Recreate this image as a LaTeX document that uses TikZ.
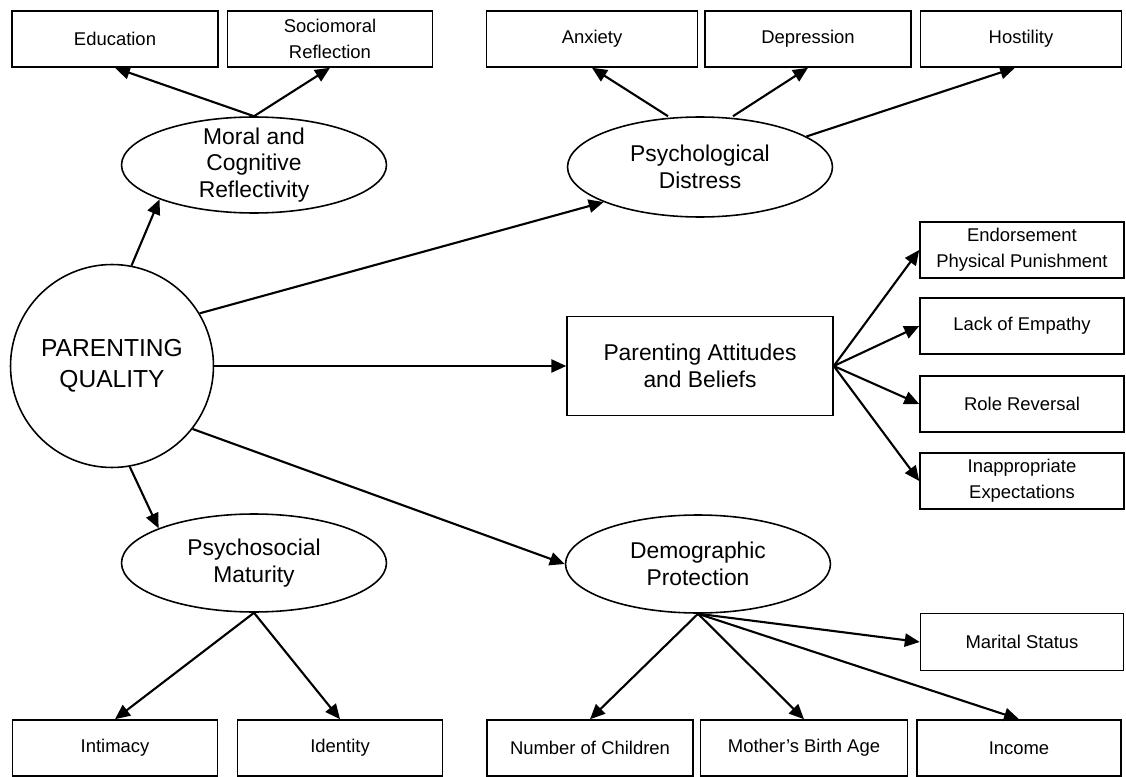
\documentclass[tikz,border=0pt]{standalone}
\usepackage{fontspec}
\setmainfont{Liberation Sans}
\usetikzlibrary{arrows.meta,shapes.geometric}

\begin{document}
\begin{tikzpicture}[x=0.02cm, y=-0.02cm,
  box/.style={draw, line width=0.9pt, inner sep=0pt, minimum height=1.12cm, align=center, font=\fontsize{10.5}{14.8}\selectfont},
  latent/.style={draw, ellipse, line width=0.9pt, inner sep=0pt, minimum width=5.3cm, minimum height=1.96cm, align=center, font=\fontsize{13}{15}\selectfont},
  link/.style={-{Triangle[length=8.5pt,width=7.5pt]}, line width=1.2pt}]
\useasboundingbox (0,0) rectangle (1126,777);
% indicators, top row
\node [box, minimum width=4.12cm] (education) at (115,39) {Education};
\node [box, minimum width=4.1cm] (socio) at (330,39) {Sociomoral\\Reflection};
\node [box, minimum width=4.22cm] (anxiety) at (592,39) {Anxiety};
\node [box, minimum width=4.12cm] (depression) at (808,39) {Depression};
\node [box, minimum width=4.02cm] (hostility) at (1021,39) {Hostility};
% latent factors
\node [latent, minimum height=1.92cm, inner ysep=-2pt] (moral) at (254,165) {Moral and\\Cognitive\\Reflectivity};
\node [latent, minimum height=2cm] (distress) at (700,167) {Psychological\\Distress};
\node [latent] (psycho) at (254,563) {Psychosocial\\Maturity};
\node [latent] (demo) at (698,564) {Demographic\\Protection};
\node [draw, circle, line width=0.9pt, inner sep=0pt, minimum size=4.06cm, align=center, font=\fontsize{14}{17.6}\selectfont] (pq) at (112,366) {PARENTING\\QUALITY};
\node [box, minimum width=5.32cm, minimum height=1.98cm, font=\fontsize{13}{15}\selectfont] (attitudes) at (700,366) {Parenting Attitudes\\and Beliefs};
% indicators, right column
\node [box, minimum width=4.08cm] (endorse) at (1022,250) {Endorsement\\Physical Punishment};
\node [box, minimum width=4.08cm] (empathy) at (1022,326) {Lack of Empathy};
\node [box, minimum width=4.08cm] (reversal) at (1022,404) {Role Reversal};
\node [box, minimum width=4.08cm] (expect) at (1022,481) {Inappropriate\\Expectations};
\node [box, minimum width=4.06cm, minimum height=1.14cm] (marital) at (1022,642) {Marital Status};
% indicators, bottom row
\node [box, minimum width=4.1cm] (intimacy) at (115,748) {Intimacy};
\node [box, minimum width=4.1cm] (identity) at (340,748) {Identity};
\node [box, minimum width=4.12cm] (children) at (590,748) {Number of Children};
\node [box, minimum width=4.14cm] (birthage) at (804,748) {Mother's Birth Age};
\node [box, minimum width=4.08cm] (income) at (1019,748) {Income};
% paths
\draw [link] (moral.north) -- (education.south);
\draw [link] (moral.north) -- (socio.south);
\draw [link] ([xshift=-0.64cm]distress.north) -- (anxiety.south);
\draw [link] ([xshift=0.66cm]distress.north) -- (depression.south);
\draw [link] (distress.16) -- ([xshift=-0.12cm]hostility.south);
\draw [link] (pq.79) -- (moral.200);
\draw [link] (pq.31) -- (distress.200);
\draw [link] (pq.east) -- (attitudes.west);
\draw [link] (pq.-38) -- (demo.west);
\draw [link] (pq.-80) -- (psycho.160);
\foreach \b in {endorse,empathy,reversal,expect}
\draw [link] (attitudes.east) -- (\b.west);
\foreach \b in {intimacy,identity}
\draw [link] (psycho.south) -- (\b.north);
\foreach \b in {children,birthage,income}
\draw [link] (demo.south) -- (\b.north);
\draw [link] (demo.south) -- (marital.west);
\end{tikzpicture}
\end{document}
